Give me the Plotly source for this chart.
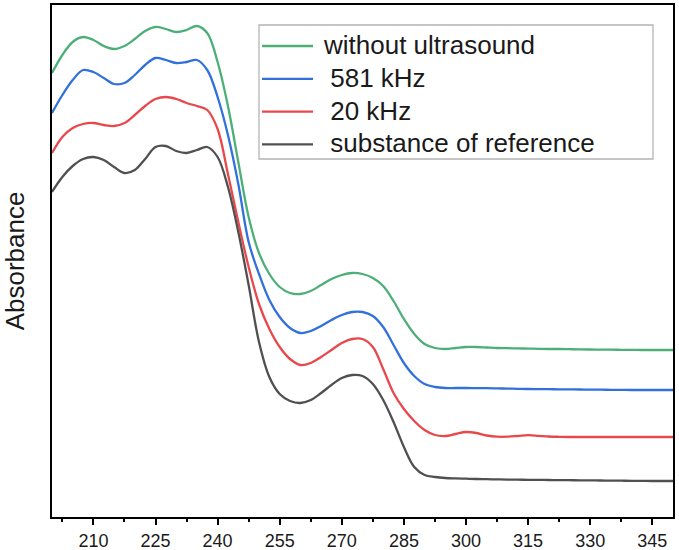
import plotly.graph_objects as go

# Wavelength grid (nm) and absorbance (arbitrary units, x1000)
wavelength = [200, 202.5, 205, 207.5, 210, 212.5, 215, 217.5, 220, 222.5,
              225, 227.5, 230, 232.5, 235, 237.5, 240, 242.5, 245, 247.5,
              250, 252.5, 255, 257.5, 260, 262.5, 265, 267.5, 270, 272.5,
              275, 277.5, 280, 282.5, 285, 287.5, 290, 292.5, 295, 297.5,
              300, 302.5, 305, 307.5, 310, 312.5, 315, 317.5, 320, 322.5,
              325, 327.5, 330, 332.5, 335, 337.5, 340, 342.5, 345, 347.5, 350]

abs_without_us = [444, 462, 475, 480, 477, 471, 468, 471, 478, 486,
                  490, 488, 485, 487, 491, 484, 455, 411, 355, 300,
                  264, 243, 230, 224, 223, 226, 232, 238, 242, 244,
                  243, 239, 231, 216, 198, 183, 173, 169, 168, 169,
                  170, 170, 169.5, 169, 168.8, 168.6, 168.4, 168.2, 168, 168,
                  167.8, 167.6, 167.5, 167.4, 167.3, 167.2, 167.1, 167, 167, 167, 167]

abs_581khz = [404, 422, 437, 447, 445, 439, 433, 434, 442, 452,
              459, 457, 454, 455, 457, 447, 420, 382, 333, 275,
              243, 217, 200, 189, 184, 186, 191, 197, 202, 205,
              205, 201, 190, 172, 154, 141, 133, 130, 129, 129,
              129, 128.9, 128.8, 128.6, 128.4, 128.2, 128, 127.9, 127.8, 127.7,
              127.6, 127.5, 127.4, 127.3, 127.2, 127.1, 127, 127, 127, 127, 127]

abs_20khz = [364, 380, 389, 393, 394, 392, 391, 394, 402, 411,
             418, 420, 418, 414, 411, 407, 388, 343, 295, 250,
             213, 188, 170, 158, 152, 154, 160, 167, 174, 178,
             178, 170, 148, 124, 108, 96, 87, 82, 81, 83,
             85, 84, 81.5, 80.3, 80.3, 81, 81.8, 81.2, 80.5, 80.2,
             80, 80, 80, 80, 80, 80, 80, 80, 80, 80, 80]

abs_reference = [325, 340, 351, 358, 360, 357, 350, 344, 347, 358,
                 370, 371, 366, 364, 367, 370, 360, 330, 285, 232,
                 175, 140, 123, 116, 114, 117, 124, 132, 139, 142,
                 141, 133, 117, 95, 70, 50, 42, 40, 39, 38.6,
                 38.3, 38, 37.8, 37.6, 37.4, 37.3, 37.2, 37.1, 37, 36.9,
                 36.8, 36.7, 36.6, 36.5, 36.4, 36.3, 36.2, 36.1, 36, 36, 36]

series_names = ["without ultrasound", "\u00a0581 kHz", "\u00a020 kHz", "\u00a0substance of reference"]
series_colors = ["#4caf78", "#3270dc", "#e8484c", "#505050"]
series_values = [abs_without_us, abs_581khz, abs_20khz, abs_reference]

x_ticks = [210, 225, 240, 255, 270, 285, 300, 315, 330, 345]

fig = go.Figure()
for name, col, ys in zip(series_names, series_colors, series_values):
    fig.add_trace(go.Scatter(x=wavelength, y=ys, name=name, mode="lines", showlegend=False,
                             line=dict(color=col, width=2.3, shape="spline", smoothing=1.0)))

# legend drawn as a framed box with line samples and labels (paper coordinates)
PW, PH, L, B = 621.0, 512.0, 52.0, 517.0
def px(x):
    return (x - L) / PW
def py(y):
    return (B - y) / PH

shapes = [dict(type="rect", xref="paper", yref="paper",
               x0=px(259), x1=px(653), y0=py(159), y1=py(25),
               line=dict(color="#b4b4b4", width=1.3), fillcolor="rgba(0,0,0,0)")]
annotations = []
for i, (name, col) in enumerate(zip(series_names, series_colors)):
    row_y = 45 + 32.8 * i
    shapes.append(dict(type="line", xref="paper", yref="paper",
                       x0=px(262), x1=px(313), y0=py(row_y + 1), y1=py(row_y + 1),
                       line=dict(color=col, width=2.3)))
    annotations.append(dict(text=name, xref="paper", yref="paper",
                            x=px(321), y=py(row_y), xanchor="left", yanchor="middle",
                            showarrow=False, font=dict(size=26, color="#1a1a1a")))

fig.update_layout(
    width=679, height=550,
    margin=dict(l=52, r=6, t=5, b=33),
    paper_bgcolor="white", plot_bgcolor="white",
    font=dict(family="Liberation Sans, Arial, sans-serif", color="#1a1a1a"),
    shapes=shapes, annotations=annotations,
)
fig.update_xaxes(range=[200, 350], tickmode="array", tickvals=x_ticks, automargin=False,
                 ticks="outside", ticklen=6, tickwidth=2, tickcolor="black",
                 ticklabelstandoff=0,
                 showline=True, linewidth=2, linecolor="black", mirror=True,
                 showgrid=False, zeroline=False,
                 tickfont=dict(size=18, color="#1a1a1a"),
                 minor=dict(ticks="outside", ticklen=3, tickwidth=2, tickcolor="black",
                            tick0=202.5, dtick=15, showgrid=False))
fig.update_yaxes(range=[0, 512], showticklabels=False, ticks="", automargin=False,
                 showline=True, linewidth=2, linecolor="black", mirror=True,
                 showgrid=False, zeroline=False,
                 title=dict(text="Absorbance", font=dict(size=26, color="#1a1a1a"), standoff=21))

fig.write_html("out.html")
